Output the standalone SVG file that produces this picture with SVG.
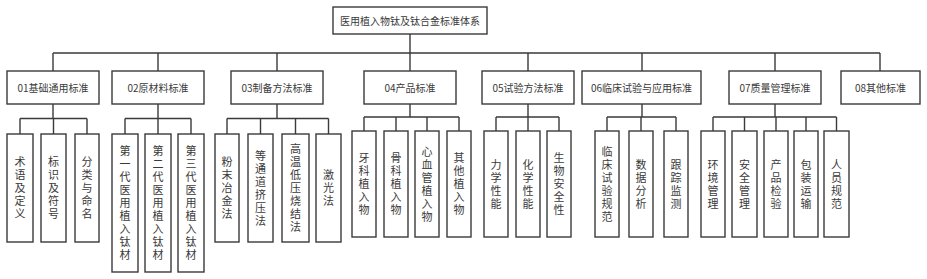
<svg xmlns="http://www.w3.org/2000/svg" width="927" height="279" viewBox="0 0 927 279">
<style>
.box{fill:#fff;stroke:#3a3a3a;stroke-width:1.4}
.ln{fill:none;stroke:#3a3a3a;stroke-width:1.4}
.t{font-family:"Noto Sans CJK SC","Noto Sans",sans-serif;font-size:10px;fill:#3a3a3a;text-anchor:middle;dominant-baseline:central}
.v{font-family:"Noto Sans CJK SC","Noto Sans",sans-serif;font-size:11px;fill:#3a3a3a;text-anchor:middle;writing-mode:vertical-rl;text-orientation:upright;letter-spacing:2px}
</style>
<rect width="927" height="279" fill="#fff"/>
<g id="connectors">
<path class="ln" d="M410,34V53M53,53H880M53,53V71M158,53V71M277,53V71M410,53V71M528,53V71M642,53V71M775,53V71M880,53V71"/>
<path class="ln" d="M53,104V118.5M20,118.5H87M20,118.5V134M53.5,118.5V134M87,118.5V134"/>
<path class="ln" d="M158,104V118.5M125,118.5H191M125,118.5V134M158,118.5V134M191,118.5V134"/>
<path class="ln" d="M277,104V118.5M227,118.5H328.5M227,118.5V134M260.5,118.5V134M295.5,118.5V134M328.5,118.5V134"/>
<path class="ln" d="M410,104V117M364,117H459M364,117V131M396,117V131M427,117V131M459,117V131"/>
<path class="ln" d="M528,104V117M496,117H559M496,117V131M528,117V131M559,117V131"/>
<path class="ln" d="M642,104V117M607,117H676M607,117V131M641,117V131M676,117V131"/>
<path class="ln" d="M775,104V117M713,117H836.5M713,117V131M744.5,117V131M776,117V131M806,117V131M836.5,117V131"/>
</g>
<g id="root"><rect class="box" x="333" y="7" width="154" height="27"/><text class="t" x="410" y="20.5">医用植入物钛及钛合金标准体系</text></g>
<g id="n01"><rect class="box" x="7" y="71" width="92" height="33"/><text class="t" x="53" y="87.5">01基础通用标准</text></g>
<g id="n02"><rect class="box" x="112" y="71" width="92" height="33"/><text class="t" x="158" y="87.5">02原材料标准</text></g>
<g id="n03"><rect class="box" x="231" y="71" width="92" height="33"/><text class="t" x="277" y="87.5">03制备方法标准</text></g>
<g id="n04"><rect class="box" x="364" y="71" width="92" height="33"/><text class="t" x="410" y="87.5">04产品标准</text></g>
<g id="n05"><rect class="box" x="482" y="71" width="92" height="33"/><text class="t" x="528" y="87.5">05试验方法标准</text></g>
<g id="n06"><rect class="box" x="582" y="71" width="119" height="33"/><text class="t" x="641.5" y="87.5">06临床试验与应用标准</text></g>
<g id="n07"><rect class="box" x="729" y="71" width="92" height="33"/><text class="t" x="775" y="87.5">07质量管理标准</text></g>
<g id="n08"><rect class="box" x="841" y="71" width="79" height="33"/><text class="t" x="880.5" y="87.5">08其他标准</text></g>

<g id="n01-1"><rect class="box" x="7" y="134" width="26" height="108"/><text class="v" x="20" y="189">术语及定义</text></g>
<g id="n01-2"><rect class="box" x="41" y="134" width="25" height="108"/><text class="v" x="53.5" y="189">标识及符号</text></g>
<g id="n01-3"><rect class="box" x="75" y="134" width="24" height="108"/><text class="v" x="87" y="189">分类与命名</text></g>

<g id="n02-1"><rect class="box" x="112" y="134" width="26" height="138"/><text class="v" x="125" y="204">第一代医用植入钛材</text></g>
<g id="n02-2"><rect class="box" x="145" y="134" width="26" height="138"/><text class="v" x="158" y="204">第二代医用植入钛材</text></g>
<g id="n02-3"><rect class="box" x="178" y="134" width="26" height="138"/><text class="v" x="191" y="204">第三代医用植入钛材</text></g>

<g id="n03-1"><rect class="box" x="215" y="134" width="24" height="108"/><text class="v" x="227" y="189">粉末冶金法</text></g>
<g id="n03-2"><rect class="box" x="248" y="134" width="25" height="108"/><text class="v" x="260.5" y="189">等通道挤压法</text></g>
<g id="n03-3"><rect class="box" x="282" y="134" width="27" height="108"/><text class="v" x="295.5" y="189">高温低压烧结法</text></g>
<g id="n03-4"><rect class="box" x="316" y="134" width="25" height="108"/><text class="v" x="328.5" y="189">激光法</text></g>

<g id="n04-1"><rect class="box" x="352" y="131" width="24" height="106"/><text class="v" x="364" y="185">牙科植入物</text></g>
<g id="n04-2"><rect class="box" x="384" y="131" width="24" height="106"/><text class="v" x="396" y="185">骨科植入物</text></g>
<g id="n04-3"><rect class="box" x="415" y="131" width="24" height="106"/><text class="v" x="427" y="185">心血管植入物</text></g>
<g id="n04-4"><rect class="box" x="447" y="131" width="24" height="106"/><text class="v" x="459" y="185">其他植入物</text></g>

<g id="n05-1"><rect class="box" x="484" y="131" width="24" height="106"/><text class="v" x="496" y="185">力学性能</text></g>
<g id="n05-2"><rect class="box" x="516" y="131" width="24" height="106"/><text class="v" x="528" y="185">化学性能</text></g>
<g id="n05-3"><rect class="box" x="547" y="131" width="24" height="106"/><text class="v" x="559" y="185">生物安全性</text></g>

<g id="n06-1"><rect class="box" x="595" y="131" width="24" height="106"/><text class="v" x="607" y="185">临床试验规范</text></g>
<g id="n06-2"><rect class="box" x="629" y="131" width="24" height="106"/><text class="v" x="641" y="185">数据分析</text></g>
<g id="n06-3"><rect class="box" x="664" y="131" width="24" height="106"/><text class="v" x="676" y="185">跟踪监测</text></g>

<g id="n07-1"><rect class="box" x="701" y="131" width="24" height="106"/><text class="v" x="713" y="185">环境管理</text></g>
<g id="n07-2"><rect class="box" x="732" y="131" width="25" height="106"/><text class="v" x="744.5" y="185">安全管理</text></g>
<g id="n07-3"><rect class="box" x="764" y="131" width="24" height="106"/><text class="v" x="776" y="185">产品检验</text></g>
<g id="n07-4"><rect class="box" x="794" y="131" width="24" height="106"/><text class="v" x="806" y="185">包装运输</text></g>
<g id="n07-5"><rect class="box" x="824" y="131" width="25" height="106"/><text class="v" x="836.5" y="185">人员规范</text></g>
</svg>
